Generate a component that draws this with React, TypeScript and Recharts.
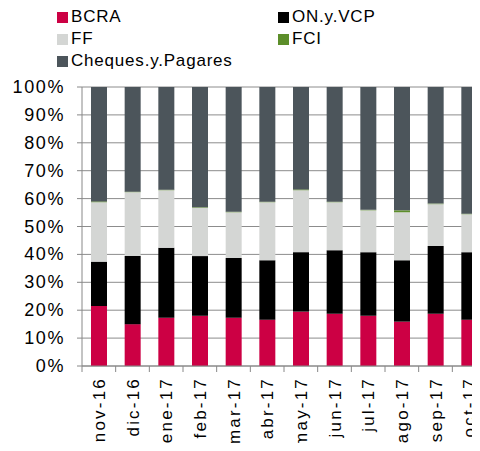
import { BarChart, Bar, XAxis, YAxis, CartesianGrid } from 'recharts';

const months = [
  'nov-16', 'dic-16', 'ene-17', 'feb-17', 'mar-17', 'abr-17',
  'may-17', 'jun-17', 'jul-17', 'ago-17', 'sep-17', 'oct-17',
];
const bcra = [21.5, 15.0, 17.3, 18.0, 17.3, 16.6, 19.5, 18.7, 18.0, 15.9, 18.7, 16.6];
const onVcp = [15.9, 24.4, 25.1, 21.4, 21.4, 21.3, 21.3, 22.8, 22.8, 22.0, 24.3, 24.2];
const ff = [21.3, 22.9, 20.6, 17.3, 16.4, 20.8, 22.2, 17.2, 15.0, 17.2, 15.0, 13.6];
const fci = [0.3, 0.2, 0.2, 0.2, 0.2, 0.2, 0.3, 0.2, 0.2, 0.7, 0.2, 0.2];
const cheques = [41.0, 37.5, 36.8, 43.1, 44.7, 41.1, 36.7, 41.1, 44.0, 44.2, 41.8, 45.4];
const yTicks = [0, 10, 20, 30, 40, 50, 60, 70, 80, 90, 100];

const series = [
  { key: 'BCRA', color: '#cc0044' },
  { key: 'ON.y.VCP', color: '#000000' },
  { key: 'FF', color: '#d4d6d4' },
  { key: 'FCI', color: '#5c8e2a' },
  { key: 'Cheques.y.Pagares', color: '#4c555b' },
];

const data = months.map((m, i) => ({
  month: m,
  BCRA: bcra[i],
  'ON.y.VCP': onVcp[i],
  FF: ff[i],
  FCI: fci[i],
  'Cheques.y.Pagares': cheques[i],
}));

const font = '"Liberation Sans", Arial, sans-serif';

// legend laid out in two columns like the original
const legendPos = [
  { left: 57, top: 11 },
  { left: 278, top: 11 },
  { left: 57, top: 33 },
  { left: 278, top: 33 },
  { left: 57, top: 55 },
];

function XTick(props: any) {
  const { x, y, payload } = props;
  const half = payload?.offset ?? 16.8;
  return (
    <g>
      <line x1={x - half} x2={x - half} y1={y - 8} y2={y - 2} stroke="#888" />
      <text
        transform={`translate(${x},${y + 3}) rotate(-90)`}
        textAnchor="end"
        dy="0.36em"
        fontSize={17}
        letterSpacing={2.2}
        fontFamily={font}
        fill="#000"
      >
        {payload.value}
      </text>
    </g>
  );
}

function YTick(props: any) {
  const { x, y, payload } = props;
  return (
    <text
      x={x}
      y={y}
      textAnchor="end"
      dominantBaseline="central"
      fontSize={18}
      letterSpacing={1.6}
      fontFamily={font}
      fill="#000"
    >
      {`${payload.value}%`}
    </text>
  );
}

export default function App() {
  return (
    <div
      style={{
        position: 'relative',
        margin: -8,
        width: 480,
        height: 451,
        overflow: 'hidden',
        background: '#fff',
      }}
    >
      {series.map((s, i) => (
        <div
          key={s.key}
          style={{
            position: 'absolute',
            left: legendPos[i].left,
            top: legendPos[i].top,
            display: 'flex',
            alignItems: 'center',
            fontFamily: font,
            fontSize: 17,
            letterSpacing: 0.8,
            lineHeight: '12px',
            whiteSpace: 'nowrap',
          }}
        >
          <span
            style={{
              display: 'inline-block',
              width: 11,
              height: 11,
              background: s.color,
              marginRight: 3,
            }}
          />
          {s.key}
        </div>
      ))}
      <BarChart
        width={492}
        height={451}
        data={data}
        margin={{ top: 87, right: 6, left: 0, bottom: 0 }}
        barSize={16}
      >
        <CartesianGrid vertical={false} stroke="#8c8c8c" />
        <XAxis
          dataKey="month"
          height={85}
          interval={0}
          tickLine={false}
          axisLine={{ stroke: '#888' }}
          tick={<XTick />}
        />
        <YAxis
          width={82}
          domain={[0, 100]}
          ticks={yTicks}
          interval={0}
          tickSize={5}
          tickMargin={12}
          tickLine={{ stroke: '#888' }}
          axisLine={{ stroke: '#888' }}
          tick={<YTick />}
        />
        {series.map((s) => (
          <Bar
            key={s.key}
            dataKey={s.key}
            stackId="a"
            fill={s.color}
            isAnimationActive={false}
          />
        ))}
      </BarChart>
    </div>
  );
}
